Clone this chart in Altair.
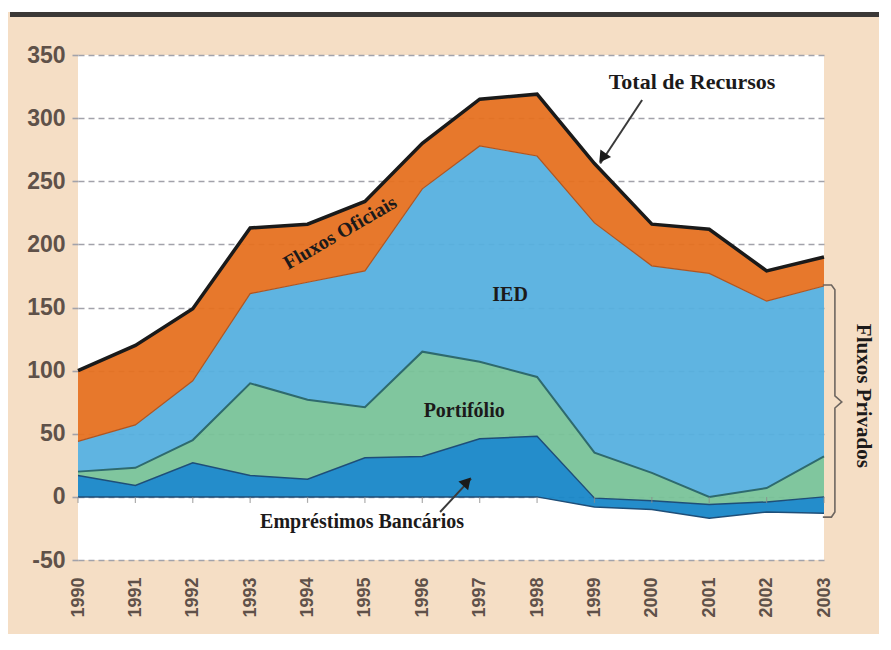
import altair as alt
import pandas as pd

# ---- data (US$ bilhões) ----
anos = list(range(1990, 2004))
base_bancarios = [0, 0, 0, 0, 0, 0, 0, 0, 0, -8, -10, -17, -12, -13]
topo_bancarios = [17, 9, 27, 17, 14, 31, 32, 46, 48, -1, -3, -6, -4, 0]
topo_portfolio = [20, 23, 45, 90, 77, 71, 115, 107, 95, 35, 19, 0, 7, 32]
topo_ied = [44, 57, 92, 161, 170, 179, 244, 278, 270, 217, 183, 177, 155, 167]
total_recursos = [100, 120, 149, 213, 216, 234, 280, 315, 319, 264, 216, 212, 179, 190]
y_ticks = [-50, 0, 50, 100, 150, 200, 250, 300, 350]

series = [
    ("Fluxos Oficiais", topo_ied, total_recursos, "#E5701F"),
    ("IED", topo_portfolio, topo_ied, "#55AFDF"),
    ("Portifólio", topo_bancarios, topo_portfolio, "#78C298"),
    ("Empréstimos Bancários", base_bancarios, topo_bancarios, "#1686C8"),
]

rows = []
for name, lo, hi, col in series:
    for a, l, h in zip(anos, lo, hi):
        rows.append({"ano": a, "serie": name, "lo": l, "hi": h})
bands = pd.DataFrame(rows)

bounds = pd.DataFrame({
    "ano": anos,
    "base_b": base_bancarios,
    "topo_b": topo_bancarios,
    "topo_p": topo_portfolio,
    "topo_i": topo_ied,
    "total": total_recursos,
    "zero": [0] * len(anos),
})

xscale = alt.Scale(domain=[1990, 2003], nice=False, zero=False)
yscale = alt.Scale(domain=[-50, 350], nice=False)

GRID = "#a2a2aa"
LABEL = "#5f5149"

xaxis = alt.Axis(values=anos, format="d", labelAngle=270, labelFontSize=18,
                 labelFontWeight="bold", labelColor=LABEL, labelPadding=17,
                 ticks=False, domain=False, grid=False, title=None,
                 labelFont="Liberation Sans")
yaxis = alt.Axis(values=y_ticks, labelFontSize=23, labelColor=LABEL,
                 labelFontWeight="bold", labelFont="Liberation Sans",
                 labelExpr="datum.value < 0 ? '-' + abs(datum.value) : '' + datum.value",
                 grid=True, gridDash=[6, 4], gridColor=GRID, gridWidth=1.6,
                 tickSize=10, tickDash=[6, 4], tickColor=GRID, tickWidth=1.6,
                 domain=False, labelPadding=3, title=None)


def X(field, axis=False):
    if axis:
        return alt.X(field, scale=xscale, axis=xaxis, title=None)
    return alt.X(field, scale=xscale, title=None)


def Y(field, axis=False):
    if axis:
        return alt.Y(field, scale=yscale, axis=yaxis, title=None, stack=False)
    return alt.Y(field, scale=yscale, title=None, stack=False)


layers = []
first = True
for name, lo, hi, col in series:
    ch = alt.Chart(bands).transform_filter(alt.datum.serie == name).mark_area(
        color=col, opacity=0.94, interpolate="linear"
    ).encode(
        x=X("ano:Q", first),
        y=Y("lo:Q", first),
        y2="hi:Q",
    )
    first = False
    layers.append(ch)


def bline(field, color, width):
    return alt.Chart(bounds).mark_line(color=color, strokeWidth=width).encode(
        x=X("ano:Q"),
        y=Y(f"{field}:Q"),
    )


layers += [
    bline("base_b", "#1E4E78", 1.5),
    bline("topo_b", "#1E4E78", 1.5),
    bline("topo_p", "#2E6A6E", 2),
    bline("topo_i", "#B0541F", 1.2),
    bline("total", "#1a1a1a", 3.5),
]

ticks = alt.Chart(bounds).mark_tick(orient="vertical", size=6, thickness=1.2,
                                    color="#8a8a8a", yOffset=3).encode(
    x=X("ano:Q"),
    y=Y("zero:Q"),
)
layers.append(ticks)

# ---- annotations ----
SERIF = "Liberation Serif"
labels = [
    {"t": "Total de Recursos", "x": 2000.70, "y": 328.5, "a": 0, "s": 22},
    {"t": "Fluxos Oficiais", "x": 1994.57, "y": 209, "a": 330, "s": 20},
    {"t": "IED", "x": 1997.53, "y": 160, "a": 0, "s": 20},
    {"t": "Portifólio", "x": 1996.73, "y": 68, "a": 0, "s": 20},
    {"t": "Empréstimos Bancários", "x": 1994.95, "y": -20, "a": 0, "s": 20},
    {"t": "Fluxos Privados", "x": 2003.68, "y": 80, "a": 90, "s": 21},
]
for r in labels:
    layers.append(
        alt.Chart(pd.DataFrame([r])).mark_text(
            font=SERIF, fontWeight="bold", fontSize=r["s"], color="#1c1a1a",
            angle=r["a"], align="center", baseline="middle",
        ).encode(
            x=X("x:Q"),
            y=Y("y:Q"),
            text="t:N",
        )
    )

arrows = pd.DataFrame([
    {"x": 1999.83, "y": 314.4, "x2": 1999.10, "y2": 264.0, "hx": 1999.14, "hy": 268.5, "ang": 215},
    {"x": 1996.31, "y": -12.0, "x2": 1996.85, "y2": 14.5, "hx": 1996.78, "hy": 12.0, "ang": 42},
])
layers.append(
    alt.Chart(arrows).mark_rule(color="#3a3a3a", strokeWidth=2).encode(
        x=X("x:Q"), y=Y("y:Q"), x2="x2:Q", y2="y2:Q",
    )
)
layers.append(
    alt.Chart(arrows).mark_point(shape="triangle-up", filled=True, size=170,
                                 color="#1a1a1a", opacity=1).encode(
        x=X("hx:Q"), y=Y("hy:Q"),
        angle=alt.Angle("ang:Q", scale=None),
    )
)

brace = pd.DataFrame({
    "bx": [2002.98, 2003.13, 2003.19, 2003.19, 2003.31, 2003.19, 2003.19, 2003.13, 2002.98],
    "by": [167.8, 167.8, 164.0, 80.0, 75.2, 70.4, -12.0, -16.0, -16.0],
    "o": list(range(9)),
})
layers.append(
    alt.Chart(brace).mark_line(color="#6e6660", strokeWidth=1.6).encode(
        x=X("bx:Q"), y=Y("by:Q"), order="o:Q",
    )
)

# decorative top band
deco = pd.DataFrame({"k": [0]})
layers.append(
    alt.Chart(deco).mark_rect(color="white").encode(
        x=alt.value(-72), x2=alt.value(820), y=alt.value(-48), y2=alt.value(-43),
    )
)
layers.append(
    alt.Chart(deco).mark_rule(color="#3b3836", strokeWidth=5).encode(
        x=alt.value(-68), x2=alt.value(820), y=alt.value(-40.5),
    )
)

chart = alt.layer(*layers).properties(
    width=746, height=505,
    autosize=alt.AutoSizeParams(type="none"),
    padding={"left": 70, "top": 47, "right": 55, "bottom": 74},
    background="#F5DEC5",
).configure_view(fill="white", strokeWidth=0)

chart.save("out.html", embed_options={"renderer": "svg", "actions": False})
